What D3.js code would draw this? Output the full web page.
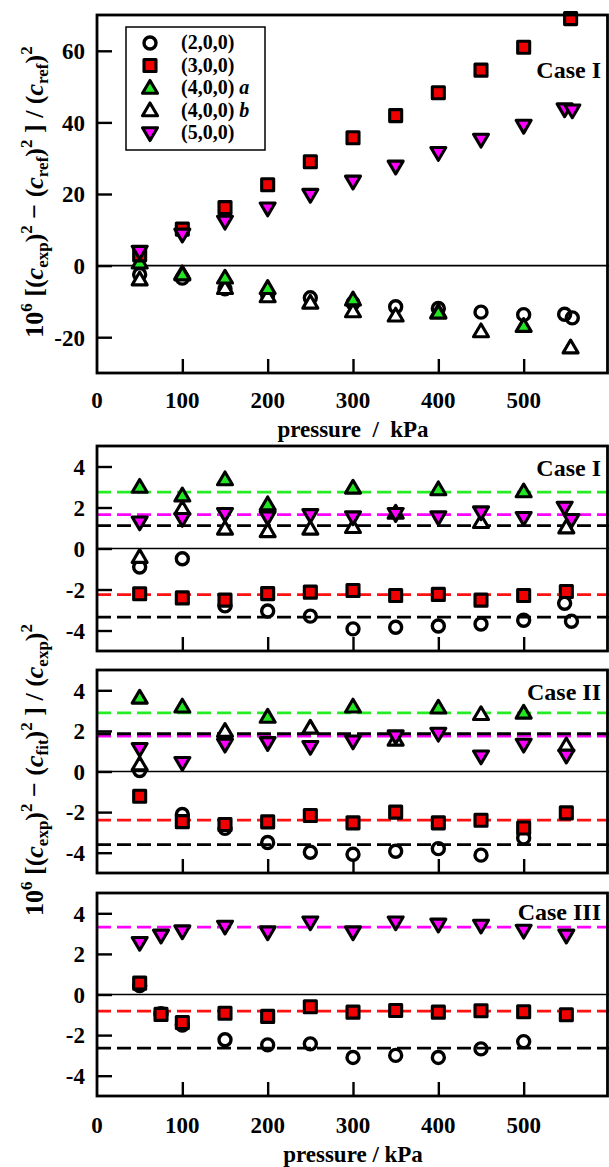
<!DOCTYPE html>
<html><head><meta charset="utf-8">
<script src="https://cdn.jsdelivr.net/npm/d3@7"></script>
<style>
body{margin:0;background:#fff}
text{font-family:"Liberation Serif","Times New Roman",serif;font-weight:bold;fill:#000}
</style>
</head><body>
<svg id="c" width="609" height="1167"></svg>
<script>
// ---------------- DATA ----------------
const xTickValues=[0,100,200,300,400,500];
const topYTicks=[-20,0,20,40,60];
const resYTicks=[-4,-2,0,2,4];
const legendLabels=["(2,0,0)","(3,0,0)","(4,0,0)","(4,0,0)","(5,0,0)"];
const legendSuffix=["","","a","b",""];
const caseLabels=["Case I","Case I","Case II","Case III"];

// Top panel: deviations from reference
const refP200=[50,100,150,200,250,300,350,400,450,500,548,557];
const ref200=[-2.5,-3.5,-6.5,-8.2,-9,-10.5,-11.5,-12,-13,-13.7,-13.6,-14.6];
const refP300=[50,100,150,200,250,300,350,400,450,500,555];
const ref300=[3,10.2,16.2,22.6,29,35.7,41.9,48.3,54.6,61,69];
const refP400a=[50,100,150,200,300,400,500];
const ref400a=[0.8,-2.5,-3.4,-6.3,-9.5,-13.2,-16.9];
const refP400b=[50,100,150,200,250,300,350,400,450,555];
const ref400b=[-3.9,-2.2,-6.3,-8.6,-10.4,-12.8,-14,-13,-18.4,-22.9];
const refP500=[50,100,150,200,250,300,350,400,450,500,548,557];
const ref500=[3.9,8.7,12.3,16,19.8,23.5,27.7,31.5,35.2,39.1,43.7,43.4];

// Case I residuals
const c1P200=[50,100,150,200,250,300,350,400,450,500,548,556];
const c1_200=[-0.9,-0.5,-2.8,-3.05,-3.3,-3.92,-3.84,-3.78,-3.68,-3.5,-2.67,-3.55];
const c1P300=[50,100,150,200,250,300,350,400,450,500,550];
const c1_300=[-2.21,-2.41,-2.52,-2.2,-2.13,-2.05,-2.29,-2.24,-2.52,-2.29,-2.1];
const c1P400a=[50,100,150,200,300,400,500];
const c1_400a=[3.0,2.58,3.37,2.15,2.96,2.88,2.78];
const c1P400b=[50,100,150,200,250,300,350,450,550];
const c1_400b=[-0.42,1.94,0.96,0.84,0.96,1.04,1.74,1.28,1.02];
const c1P500=[50,100,150,200,250,300,350,400,450,500,548,556];
const c1_500=[1.28,1.45,1.69,1.53,1.64,1.53,1.69,1.53,1.77,1.5,2.0,1.4];
const c1Fit=[-3.35,-2.25,2.75,1.12,1.65];   // (2,0,0),(3,0,0),(4,0,0)a,(4,0,0)b,(5,0,0)

// Case II residuals
const c2P200=[50,100,150,200,250,300,350,400,450,500];
const c2_200=[0.05,-2.12,-2.8,-3.5,-3.98,-4.08,-3.93,-3.8,-4.12,-3.27];
const c2P300=[50,100,150,200,250,300,350,400,450,500,550];
const c2_300=[-1.22,-2.47,-2.61,-2.48,-2.17,-2.53,-2.0,-2.53,-2.4,-2.78,-2.04];
const c2P400a=[50,100,200,300,400,500];
const c2_400a=[3.63,3.19,2.69,3.19,3.14,2.89];
const c2P400b=[50,150,250,350,450,550];
const c2_400b=[0.34,1.99,2.15,1.56,2.82,1.28];
const c2P500=[50,100,150,200,250,300,350,400,450,500,550];
const c2_500=[1.12,0.43,1.33,1.41,1.22,1.49,1.74,1.87,0.75,1.33,0.79];
const c2Fit=[-3.6,-2.4,2.89,1.86,1.74];

// Case III residuals
const c3P200=[50,75,100,150,200,250,300,350,400,450,500];
const c3_200=[0.44,-0.95,-1.5,-2.23,-2.48,-2.43,-3.1,-3.0,-3.1,-2.68,-2.32];
const c3P300=[50,75,100,150,200,250,300,350,400,450,500,550];
const c3_300=[0.56,-0.98,-1.38,-0.92,-1.08,-0.6,-0.87,-0.79,-0.87,-0.8,-0.85,-1.0];
const c3P500=[50,75,100,150,200,250,300,350,400,450,500,550];
const c3_500=[2.55,2.91,3.12,3.35,3.07,3.56,3.07,3.56,3.45,3.4,3.15,2.91];
const c3Fit=[-2.64,-0.82,null,null,3.32];

// ---------------- DRAWING ----------------
const svg=d3.select("#c");
const X0=97,X1=609;
const x=d3.scaleLinear().domain([0,600]).range([X0,X1]);
const FILL={c:"none",s:"#f00000",ta:"#22e622",tb:"#ffffff",td:"#ff00ff"};
const LINECOL=["#000","#ff1010","#22ee22","#000","#ff00ff"];

function markerPath(type){
  if(type==="c") return d3.symbol(d3.symbolCircle, Math.PI*6*6)();
  if(type==="s") return "M-6,-6H6V6H-6Z";
  if(type==="ta"||type==="tb") return "M0,-7.5L7.5,5.3L-7.5,5.3Z";
  return "M0,7.5L7.5,-5.3L-7.5,-5.3Z";
}
function drawMarkers(g,y,P,V,type){
  const pts=P.map((p,i)=>({p,v:V[i]}));
  g.selectAll(null).data(pts).enter().append("path")
    .attr("d",markerPath(type))
    .attr("transform",d=>`translate(${x(d.p)},${y(d.v)})`)
    .attr("fill",type==="c"?"#fff":FILL[type])
    .attr("fill-opacity",type==="c"?0:1)
    .attr("stroke","#000").attr("stroke-width",type==="c"?3.4:3.1)
    .attr("stroke-linejoin","round");
}

const panels=[
  {top:15,bottom:373,domain:[-30,70],ticks:topYTicks,caseY:78,
   series:[[refP200,ref200,"c"],[refP400b,ref400b,"tb"],[refP400a,ref400a,"ta"],[refP300,ref300,"s"],[refP500,ref500,"td"]],fits:null},
  {top:446,bottom:651,domain:[-5,5],ticks:resYTicks,caseY:476,
   series:[[c1P200,c1_200,"c"],[c1P400b,c1_400b,"tb"],[c1P400a,c1_400a,"ta"],[c1P300,c1_300,"s"],[c1P500,c1_500,"td"]],fits:c1Fit},
  {top:670,bottom:873,domain:[-5,5],ticks:resYTicks,caseY:700,
   series:[[c2P200,c2_200,"c"],[c2P400b,c2_400b,"tb"],[c2P400a,c2_400a,"ta"],[c2P300,c2_300,"s"],[c2P500,c2_500,"td"]],fits:c2Fit},
  {top:893,bottom:1096,domain:[-5,5],ticks:resYTicks,caseY:920,
   series:[[c3P200,c3_200,"c"],[c3P300,c3_300,"s"],[c3P500,c3_500,"td"]],fits:c3Fit}
];
const fitOrder=[4,2,1,0,3];

panels.forEach((pn,k)=>{
  const y=d3.scaleLinear().domain(pn.domain).range([pn.bottom,pn.top]);
  const g=svg.append("g");
  if(pn.fits){
    fitOrder.forEach(i=>{
      if(pn.fits[i]==null) return;
      g.append("line").attr("x1",X0).attr("x2",X1).attr("y1",y(pn.fits[i])).attr("y2",y(pn.fits[i]))
        .attr("stroke",LINECOL[i]).attr("stroke-width",2.8).attr("stroke-dasharray","14,6");
    });
  }
  g.append("line").attr("x1",X0).attr("x2",X1).attr("y1",y(0)).attr("y2",y(0))
    .attr("stroke","#000").attr("stroke-width",1.7);
  const ya=d3.axisLeft(y).tickValues(pn.ticks).tickSize(-15).tickFormat(d=>d<0?"-"+Math.abs(d):d);
  const yg=g.append("g").attr("transform",`translate(${X0},0)`).call(ya);
  yg.select(".domain").remove();
  yg.selectAll(".tick line").attr("stroke","#000").attr("stroke-width",2.4);
  yg.selectAll(".tick text").attr("x",-12).attr("dy","0.34em").style("font-size","23px").attr("text-anchor","end");
  const xa=d3.axisBottom(x).tickValues([100,200,300,400,500]).tickSize(-14).tickFormat("");
  const xg=g.append("g").attr("transform",`translate(0,${pn.bottom})`).call(xa);
  xg.select(".domain").remove();
  xg.selectAll(".tick line").attr("stroke","#000").attr("stroke-width",2.4);
  pn.series.forEach(s=>drawMarkers(g,y,s[0],s[1],s[2]));
  g.append("rect").attr("x",X0).attr("y",pn.top).attr("width",X1-X0-1.5).attr("height",pn.bottom-pn.top)
    .attr("fill","none").attr("stroke","#000").attr("stroke-width",2.8);
  g.append("text").attr("x",601).attr("y",pn.caseY).attr("text-anchor","end").style("font-size","24px").text(caseLabels[k]);
});

function xLabels(yb){
  svg.append("g").selectAll(null).data(xTickValues).enter().append("text")
    .attr("x",d=>x(d)).attr("y",yb).attr("text-anchor","middle").style("font-size","23px").text(d=>d);
}
xLabels(408);
xLabels(1133);
svg.append("text").attr("x",353).attr("y",437).attr("text-anchor","middle").style("font-size","23px")
  .attr("xml:space","preserve").text("pressure\u2002/\u2002kPa");
svg.append("text").attr("x",353).attr("y",1162).attr("text-anchor","middle").style("font-size","23px").text("pressure / kPa");

// legend
const lg=svg.append("g");
lg.append("rect").attr("x",126).attr("y",27).attr("width",139).attr("height",123).attr("fill","#fff").attr("stroke","#000").attr("stroke-width",1.5);
const legTypes=["c","s","ta","tb","td"];
legTypes.forEach((t,i)=>{
  const cy=43+i*22.5;
  lg.append("path").attr("d",markerPath(t)).attr("transform",`translate(150,${cy})`)
    .attr("fill",t==="c"?"none":FILL[t]).attr("stroke","#000").attr("stroke-width",t==="c"?3.4:3.1).attr("stroke-linejoin","round");
  const tx=lg.append("text").attr("x",181).attr("y",cy+6).style("font-size","20px");
  tx.append("tspan").text(legendLabels[i]);
  if(legendSuffix[i]) tx.append("tspan").attr("font-style","italic").text(" "+legendSuffix[i]);
});

// y axis titles
function yTitle(cx,cy,parts){
  const t=svg.append("text").attr("transform",`translate(${cx},${cy}) rotate(-90)`).attr("text-anchor","middle").style("font-size","26px");
  let shift=0;
  parts.forEach(([s,k])=>{
    const ts=t.append("tspan").text(s);
    let target=0;
    if(k==="sup"){target=-11;ts.style("font-size","17px");}
    else if(k==="sub"){target=5;ts.style("font-size","17px");}
    else if(k==="i"){ts.attr("font-style","italic");}
    ts.attr("dy",target-shift);shift=target;
  });
}
yTitle(43,192,[["10"],["6","sup"],[" [("],["c","i"],["exp","sub"],[")"],["2","sup"],[" \u2212 ("],["c","i"],["ref","sub"],[")"],["2","sup"],[" ] / ("],["c","i"],["ref","sub"],[")"],["2","sup"]]);
yTitle(43,770,[["10"],["6","sup"],[" [("],["c","i"],["exp","sub"],[")"],["2","sup"],[" \u2212 ("],["c","i"],["fit","sub"],[")"],["2","sup"],[" ] / ("],["c","i"],["exp","sub"],[")"],["2","sup"]]);
</script>
</body></html>
